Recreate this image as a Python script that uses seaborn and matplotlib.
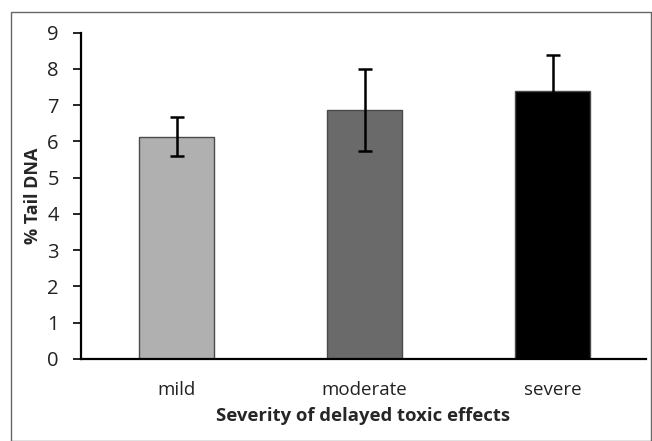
import matplotlib
matplotlib.use("Agg")
import matplotlib.pyplot as plt
import seaborn as sns
import pandas as pd
from matplotlib.patches import Rectangle

categories = ["mild", "moderate", "severe"]
values = [6.13, 6.86, 7.39]
errors = [0.54, 1.13, 0.98]
bar_colors = ["#b0b0b0", "#6a6a6a", "#000000"]
yticks = [0, 1, 2, 3, 4, 5, 6, 7, 8, 9]

sns.set_style("white")
plt.rcParams['font.family'] = ['Open Sans', 'DejaVu Sans']

df = pd.DataFrame({"cat": categories, "val": values})

fig = plt.figure(figsize=(6.52, 4.41), dpi=100)
ax = fig.add_axes([0.1242, 0.186, 0.8666, 0.740])

sns.barplot(data=df, x="cat", y="val", hue="cat", palette=bar_colors,
            width=0.4, edgecolor="#4a4a4a", linewidth=1.0, legend=False, ax=ax,
            errorbar=None)
ax.errorbar(range(len(categories)), values, yerr=errors, fmt="none",
            ecolor="black", elinewidth=1.8, capsize=5, capthick=1.8, zorder=5)

ax.set_xlim(-0.508, 2.495)
ax.set_ylim(0, 9)
ax.set_yticks(yticks)
ax.set_yticklabels([str(t) for t in yticks], fontsize=14.5)
ax.tick_params(axis="y", direction="out", length=6, width=1.2, color="black",
               left=True, pad=10, labelcolor="#222222")
ax.tick_params(axis="x", length=0, pad=15.5, labelsize=13.5, labelcolor="#222222")

for s in ["top", "right"]:
    ax.spines[s].set_visible(False)
for s in ["left", "bottom"]:
    ax.spines[s].set_color("black")
    ax.spines[s].set_linewidth(1.6)

ax.set_ylabel("% Tail DNA", fontsize=13, fontweight="bold", labelpad=4)
ax.set_xlabel("Severity of delayed toxic effects", fontsize=13.3,
              fontweight="bold", labelpad=6)

fig.patches.append(Rectangle((11 / 652, 0), (651 - 11) / 652, 1 - 12 / 441,
                             transform=fig.transFigure, fill=False,
                             edgecolor="#666666", linewidth=1.0))

fig.savefig("out.png", dpi=100)
